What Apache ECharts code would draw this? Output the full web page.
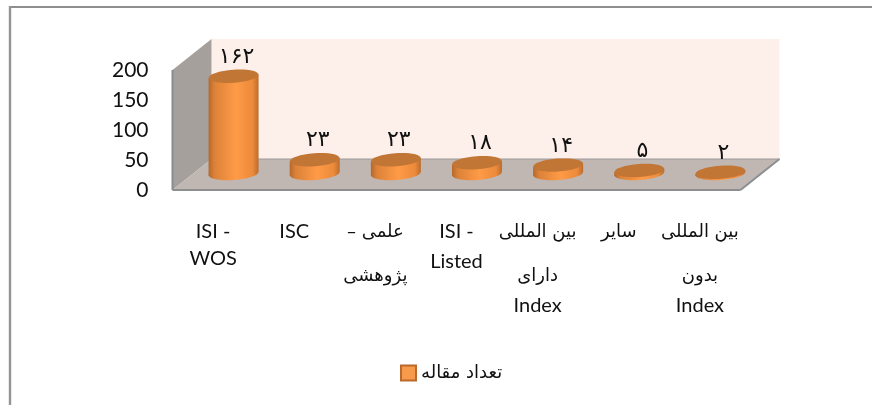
<!DOCTYPE html>
<html><head><meta charset="utf-8">
<style>html,body{margin:0;padding:0;background:#fff}#c{width:872px;height:405px}</style>
<script src="https://cdn.jsdelivr.net/npm/echarts@6/dist/echarts.min.js"></script>
</head><body><div id="c"></div>
<script>
const categories = ['ISI -\nWOS','ISC','علمی –\u200f\nپژوهشی','ISI -\nListed','بین المللی\nدارای\nIndex','سایر','بین المللی\nبدون\nIndex'];
const values = [162,23,23,18,14,5,2];
const valueLabels = ['۱۶۲','۲۳','۲۳','۱۸','۱۴','۵','۲'];
const seriesName = 'تعداد مقاله';
const yTicks = [0,50,100,150,200];

const DX = 39, DY = -31, RX = 25, RY = 6.5, TILT = 4 * Math.PI / 180;
const font = 'Lato, "DejaVu Sans", sans-serif';
const faFont = '"DejaVu Sans", sans-serif';

function richLabel(v){
  const lines = v.split('\n');
  return lines.map((l,i)=>{
    const latin = /^[\x00-\x7f]+$/.test(l);
    let s = i===0 ? (latin?'fl':'fa') : (i===2 ? 'n' : (latin ? (l==='WOS'?'w':'n') : 'm'));
    return '{'+s+'|'+l+'}';
  }).join('\n');
}
const lat = {fontFamily:font,fontSize:20,color:'#111'};
const ar = {fontFamily:faFont,fontSize:18,color:'#111'};

const chart = echarts.init(document.getElementById('c'),null,{renderer:'canvas'});
chart.setOption({
  animation:false,
  backgroundColor:'#fff',
  graphic:[
    {type:'line',shape:{x1:10,y1:7,x2:872,y2:7},style:{stroke:'#8e8e8e',lineWidth:2},silent:true},
    {type:'line',shape:{x1:10,y1:6,x2:10,y2:405},style:{stroke:'#949494',lineWidth:2.4},silent:true}
  ],
  grid:{left:172.5,top:70,width:568,height:120,containLabel:false},
  legend:{
    left:395,top:359,itemWidth:15,itemHeight:15,itemGap:6,
    data:[{name:seriesName,icon:'rect'}],
    textStyle:{fontFamily:faFont,fontSize:18,color:'#111'},
    selectedMode:false
  },
  xAxis:{type:'category',data:categories,axisLine:{show:false},axisTick:{show:false},
    axisLabel:{interval:0,margin:20,verticalAlign:'top',align:'center',formatter:richLabel,
      rich:{fl:{...lat,lineHeight:44},fa:{...ar,lineHeight:44},m:{...ar,lineHeight:44},
            n:{...lat,lineHeight:16},w:{...lat,lineHeight:10}}}},
  yAxis:{type:'value',min:0,max:200,interval:50,splitLine:{show:false},axisLine:{show:false},axisTick:{show:false},
    axisLabel:{margin:24,fontFamily:font,fontSize:21,color:'#111'}},
  series:[
    {
      name:'walls',type:'custom',data:[[0,0]],silent:true,z:1,
      renderItem(params,api){
        const c=params.coordSys; const x=c.x,y=c.y,w=c.width,h=c.height,b=y+h;
        return {type:'group',children:[
          {type:'rect',shape:{x:x+DX,y:y+DY,width:w,height:h},style:{fill:'#fdf0ea'}},
          {type:'polygon',shape:{points:[[x,y],[x+DX,y+DY],[x+DX,b+DY],[x,b]]},style:{fill:'#a6a09d'}},
          {type:'polygon',shape:{points:[[x,b],[x+DX,b+DY],[x+w+DX,b+DY],[x+w,b]]},style:{fill:'#c0b7b3'}},
          {type:'line',shape:{x1:x,y1:y,x2:x,y2:b},style:{stroke:'#878d8f',lineWidth:2}},
          {type:'line',shape:{x1:x,y1:b,x2:x+w,y2:b},style:{stroke:'#8c8f90',lineWidth:2}},
          {type:'line',shape:{x1:x+w,y1:b,x2:x+w+DX,y2:b+DY},style:{stroke:'#8c8f90',lineWidth:2}},
          {type:'line',shape:{x1:x+DX,y1:b+DY,x2:x+w+DX,y2:b+DY},style:{stroke:'#9a9a98',lineWidth:1}}
        ]};
      }
    },
    {
      name:seriesName,type:'custom',z:2,silent:true,
      itemStyle:{color:'#f89a4c',borderColor:'#b9692b',borderWidth:2},
      data:values.map((v,i)=>[i,v]),
      encode:{x:0,y:1},
      renderItem(params,api){
        const p=api.coord([api.value(0),api.value(1)]), z=api.coord([api.value(0),0]);
        const cx=z[0]+DX/2+1, base=z[1]+DY/2-1, top=p[1]+DY/2-1;
        const s=RX*Math.sin(TILT);
        const grad={type:'linear',x:0,y:0,x2:1,y2:0,colorStops:[
          {offset:0,color:'#b5682c'},{offset:.12,color:'#dc8238'},{offset:.55,color:'#ff9b47'},
          {offset:.88,color:'#ec8a3b'},{offset:1,color:'#bb6c2d'}]};
        const ell=(cy,fill)=>({type:'ellipse',shape:{cx:0,cy:0,rx:RX,ry:RY},x:cx,y:cy,rotation:TILT,style:{fill}});
        return {type:'group',children:[
          ell(base,grad),
          {type:'polygon',shape:{points:[[cx-RX,top+s],[cx+RX,top-s],[cx+RX,base-s],[cx-RX,base+s]]},style:{fill:grad}},
          ell(top,'#c27636'),
          {type:'text',x:cx+3,y:top-19,style:{text:valueLabels[params.dataIndex],align:'center',verticalAlign:'middle',
            fontFamily:faFont,fontSize:22,fill:'#111'}}
        ]};
      }
    }
  ]
});
</script></body></html>
